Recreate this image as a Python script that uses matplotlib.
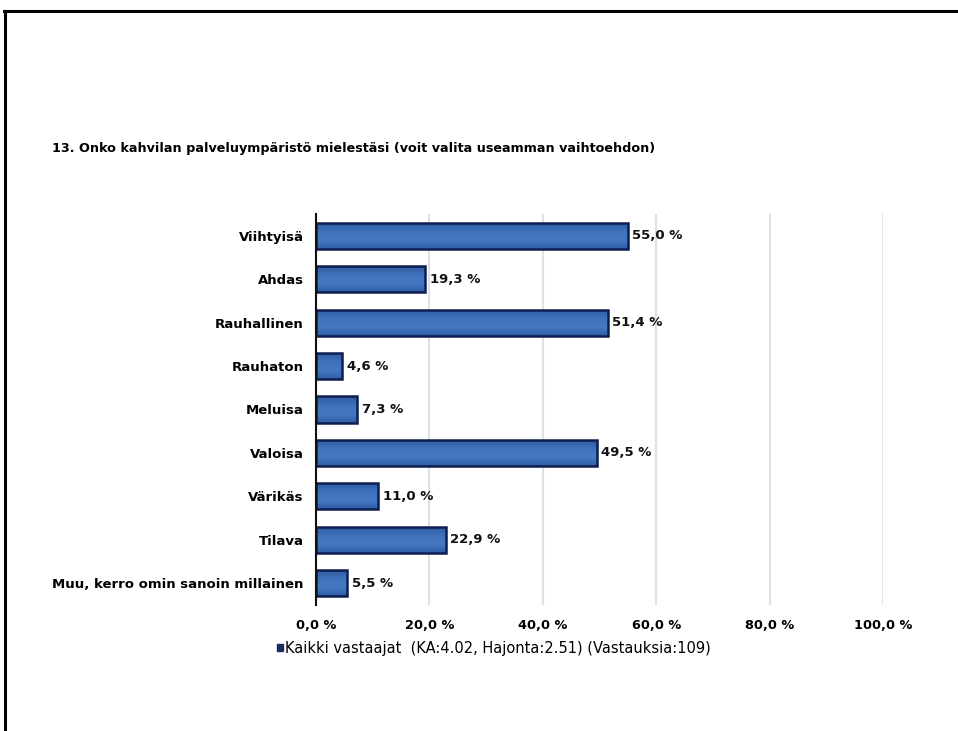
import numpy as np
import matplotlib.pyplot as plt
from matplotlib.colors import LinearSegmentedColormap
from matplotlib.lines import Line2D
from matplotlib.patches import Patch

# Survey answers, question 13
categories = ["Viihtyisä", "Ahdas", "Rauhallinen", "Rauhaton", "Meluisa",
              "Valoisa", "Värikäs", "Tilava", "Muu, kerro omin sanoin millainen"]
shares = [55.0, 19.3, 51.4, 4.6, 7.3, 49.5, 11.0, 22.9, 5.5]
ticks = [0, 20, 40, 60, 80, 100]
title = "13. Onko kahvilan palveluympäristö mielestäsi (voit valita useamman vaihtoehdon)"
series_label = "Kaikki vastaajat  (KA:4.02, Hajonta:2.51) (Vastauksia:109)"


def fmt(v):
    return f"{v:.1f} %".replace(".", ",")


def main():
    plt.rcParams['font.family'] = ['DejaVu Sans']
    fig = plt.figure(figsize=(9.58, 7.31), dpi=100)
    ax = fig.add_axes([0.3299, 0.1724, 0.5919, 0.5349])

    pos = list(range(len(categories)))
    bars = ax.barh(pos, shares, height=0.6, color='#3b6cb4',
                   edgecolor='#0e1d4f', linewidth=1.8, zorder=3)

    # vertical shading inside each bar (dark edges, lighter middle)
    shade = LinearSegmentedColormap.from_list(
        'shade', ['#2f5ea6', '#4679c4', '#3e70bb', '#2d5a9f'])
    grad = np.linspace(0, 1, 64).reshape(-1, 1)
    for b in bars:
        x0, y0 = b.get_x(), b.get_y()
        im = ax.imshow(grad, cmap=shade, aspect='auto', zorder=3.5,
                       extent=[x0, x0 + b.get_width(), y0, y0 + b.get_height()],
                       interpolation='bilinear')
        im.set_clip_path(b)
        b.set_facecolor('none')
        b.set_zorder(4)

    for y, v in zip(pos, shares):
        ax.text(v + 0.8, y, fmt(v), va='center', ha='left', fontsize=9.5,
                fontweight='bold', color='#111111')

    ax.set_xlim(0, 100)
    ax.set_ylim(len(categories) - 0.5, -0.5)
    ax.set_yticks(pos)
    ax.set_yticklabels(categories, fontsize=9.5, fontweight='bold')
    ax.set_xticks(ticks)
    ax.set_xticklabels([fmt(t) for t in ticks], fontsize=9.3, fontweight='bold')
    ax.tick_params(axis='both', length=0, pad=9)
    ax.tick_params(axis='x', pad=10)
    for side in ['top', 'right', 'bottom']:
        ax.spines[side].set_visible(False)
    ax.spines['left'].set_linewidth(1.5)
    ax.spines['left'].set_color('#111111')
    ax.spines['left'].set_zorder(5)
    ax.grid(axis='x', color='#dde1e8', linewidth=1.5, zorder=0)
    ax.set_axisbelow(True)

    fig.text(0.054, 0.797, title, fontsize=9.2, fontweight='bold',
             va='center', ha='left')

    fig.legend(handles=[Patch(facecolor='#1c2a5e', edgecolor='#1c2a5e')],
               labels=[series_label], loc='center',
               bbox_to_anchor=(0.516, 0.113), frameon=False, fontsize=10.5,
               handlelength=0.4, handleheight=0.4, handletextpad=0.15)

    # outer frame: top and left edges
    fig.add_artist(Line2D([0.004, 1.0], [0.985, 0.985], color='black',
                          linewidth=2.2, transform=fig.transFigure))
    fig.add_artist(Line2D([0.005, 0.005], [0.0, 0.985], color='black',
                          linewidth=2.2, transform=fig.transFigure))

    fig.savefig('out.png', dpi=100)


if __name__ == "__main__":
    main()
